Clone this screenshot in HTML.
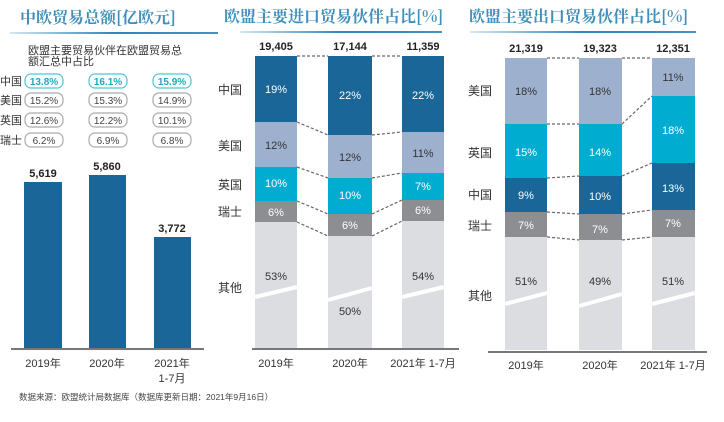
<!DOCTYPE html>
<html><head><meta charset="utf-8"><style>
body{margin:0;background:#fff;}
svg{display:block;font-family:"Liberation Sans","Noto Sans CJK SC",sans-serif;}
</style></head><body>
<svg width="724" height="422" viewBox="0 0 724 422" xmlns="http://www.w3.org/2000/svg">
<defs>
<linearGradient id="ul" x1="0" x2="1"><stop offset="0" stop-color="#2f86b8" stop-opacity="0.2"/><stop offset="0.5" stop-color="#2f86b8"/><stop offset="1" stop-color="#2f86b8" stop-opacity="0.9"/></linearGradient>
</defs>
<g font-size="16" fill="#3f8fbb" font-weight="bold" font-family="'Noto Serif CJK SC','Liberation Serif',serif">
<text x="20" y="23">中欧贸易总额[亿欧元]</text>
<text x="224" y="22">欧盟主要进口贸易伙伴占比[%]</text>
<text x="469" y="22">欧盟主要出口贸易伙伴占比[%]</text>
</g>
<rect x="10" y="32" width="208" height="2" fill="url(#ul)"/>
<rect x="240" y="31" width="202" height="2" fill="url(#ul)"/>
<rect x="470" y="31" width="226" height="2" fill="url(#ul)"/>

<g font-size="11" fill="#333">
<text x="28" y="54">欧盟主要贸易伙伴在欧盟贸易总</text>
<text x="28" y="65">额汇总中占比</text>
<text x="0" y="85">中国</text><text x="0" y="104">美国</text><text x="0" y="124">英国</text><text x="0" y="144">瑞士</text>
</g>
<g font-size="10" text-anchor="middle" fill="#444">
<g stroke-width="1.2" fill="#fff">
<rect x="25" y="74" width="38" height="14" rx="6" stroke="#4fc3d8"/>
<rect x="89" y="74" width="38" height="14" rx="6" stroke="#4fc3d8"/>
<rect x="153" y="74" width="38" height="14" rx="6" stroke="#4fc3d8"/>
<rect x="25" y="93" width="38" height="14" rx="6" stroke="#aaa"/>
<rect x="89" y="93" width="38" height="14" rx="6" stroke="#aaa"/>
<rect x="153" y="93" width="38" height="14" rx="6" stroke="#aaa"/>
<rect x="25" y="113" width="38" height="14" rx="6" stroke="#aaa"/>
<rect x="89" y="113" width="38" height="14" rx="6" stroke="#aaa"/>
<rect x="153" y="113" width="38" height="14" rx="6" stroke="#aaa"/>
<rect x="25" y="133" width="38" height="14" rx="6" stroke="#aaa"/>
<rect x="89" y="133" width="38" height="14" rx="6" stroke="#aaa"/>
<rect x="153" y="133" width="38" height="14" rx="6" stroke="#aaa"/>
</g>
<g fill="#1fa7c6" font-weight="bold"><text x="44" y="85">13.8%</text><text x="108" y="85">16.1%</text><text x="172" y="85">15.9%</text></g>
<text x="44" y="104">15.2%</text><text x="108" y="104">15.3%</text><text x="172" y="104">14.9%</text>
<text x="44" y="124">12.6%</text><text x="108" y="124">12.2%</text><text x="172" y="124">10.1%</text>
<text x="44" y="144">6.2%</text><text x="108" y="144">6.9%</text><text x="172" y="144">6.8%</text>
</g>
<g fill="#1a6699">
<rect x="24" y="182" width="38" height="167"/>
<rect x="89" y="175" width="37" height="174"/>
<rect x="154" y="237" width="37" height="112"/>
</g>
<g font-size="11" font-weight="bold" text-anchor="middle" fill="#222">
<text x="43" y="177">5,619</text><text x="107" y="170">5,860</text><text x="172" y="232">3,772</text>
</g>
<rect x="11" y="348" width="193" height="2" fill="#777"/>
<g font-size="11" text-anchor="middle" fill="#333">
<text x="43" y="367">2019年</text><text x="107" y="367">2020年</text><text x="172" y="367">2021年</text><text x="172" y="382">1-7月</text>
</g>

<g font-size="12" fill="#333">
<text x="218" y="94">中国</text><text x="218" y="150">美国</text><text x="218" y="189">英国</text><text x="218" y="216">瑞士</text><text x="218" y="292">其他</text>
</g>
<g>
<rect x="255" y="56" width="42" height="66" fill="#1a6699"/>
<rect x="255" y="122" width="42" height="45" fill="#9db1cf"/>
<rect x="255" y="167" width="42" height="34" fill="#00acd0"/>
<rect x="255" y="201" width="42" height="21" fill="#8d8e91"/>
<rect x="255" y="222" width="42" height="126" fill="#dcdde1"/>
<rect x="328" y="56" width="44" height="79" fill="#1a6699"/>
<rect x="328" y="135" width="44" height="43" fill="#9db1cf"/>
<rect x="328" y="178" width="44" height="36" fill="#00acd0"/>
<rect x="328" y="214" width="44" height="22" fill="#8d8e91"/>
<rect x="328" y="236" width="44" height="112" fill="#dcdde1"/>
<rect x="402" y="56" width="42" height="76" fill="#1a6699"/>
<rect x="402" y="132" width="42" height="41" fill="#9db1cf"/>
<rect x="402" y="173" width="42" height="27" fill="#00acd0"/>
<rect x="402" y="200" width="42" height="21" fill="#8d8e91"/>
<rect x="402" y="221" width="42" height="127" fill="#dcdde1"/>
<g stroke="#fff" stroke-width="4">
<line x1="255" y1="297" x2="297" y2="287"/><line x1="328" y1="300" x2="372" y2="288"/><line x1="402" y1="297" x2="444" y2="287"/>
</g>
<g stroke="#666" stroke-width="1.2" stroke-dasharray="3,2" fill="none">
<polyline points="297,56 328,56"/><polyline points="372,56 402,56"/>
<polyline points="297,122 328,135"/><polyline points="372,135 402,132"/>
<polyline points="297,167 328,178"/><polyline points="372,178 402,173"/>
<polyline points="297,201 328,214"/><polyline points="372,214 402,200"/>
<polyline points="297,222 328,236"/><polyline points="372,236 402,221"/>
</g>
<g font-size="11" text-anchor="middle" fill="#fff">
<text x="276" y="93">19%</text><text x="350" y="99">22%</text><text x="423" y="99">22%</text>
<text x="276" y="187">10%</text><text x="350" y="199">10%</text><text x="423" y="190">7%</text>
<text x="276" y="216">6%</text><text x="350" y="229">6%</text><text x="423" y="214">6%</text>
</g>
<g font-size="11" text-anchor="middle" fill="#333">
<text x="276" y="149">12%</text><text x="350" y="161">12%</text><text x="423" y="157">11%</text>
<text x="276" y="280">53%</text><text x="350" y="315">50%</text><text x="423" y="280">54%</text>
</g>
<g font-size="11" font-weight="bold" text-anchor="middle" fill="#222">
<text x="276" y="50">19,405</text><text x="350" y="50">17,144</text><text x="423" y="50">11,359</text>
</g>
</g>
<rect x="252" y="348" width="207" height="2" fill="#777"/>
<g font-size="11" text-anchor="middle" fill="#333">
<text x="276" y="367">2019年</text><text x="350" y="367">2020年</text><text x="423" y="367">2021年 1-7月</text>
</g>

<g font-size="12" fill="#333">
<text x="468" y="95">美国</text><text x="468" y="157">英国</text><text x="468" y="199">中国</text><text x="468" y="230">瑞士</text><text x="468" y="300">其他</text>
</g>
<g>
<rect x="505" y="58" width="42" height="66" fill="#9db1cf"/>
<rect x="505" y="124" width="42" height="54" fill="#00acd0"/>
<rect x="505" y="178" width="42" height="34" fill="#1a6699"/>
<rect x="505" y="212" width="42" height="25" fill="#8d8e91"/>
<rect x="505" y="237" width="42" height="113" fill="#dcdde1"/>
<rect x="579" y="58" width="43" height="66" fill="#9db1cf"/>
<rect x="579" y="124" width="43" height="52" fill="#00acd0"/>
<rect x="579" y="176" width="43" height="38" fill="#1a6699"/>
<rect x="579" y="214" width="43" height="26" fill="#8d8e91"/>
<rect x="579" y="240" width="43" height="110" fill="#dcdde1"/>
<rect x="652" y="58" width="43" height="38" fill="#9db1cf"/>
<rect x="652" y="96" width="43" height="67" fill="#00acd0"/>
<rect x="652" y="163" width="43" height="47" fill="#1a6699"/>
<rect x="652" y="210" width="43" height="27" fill="#8d8e91"/>
<rect x="652" y="237" width="43" height="113" fill="#dcdde1"/>
<g stroke="#fff" stroke-width="4">
<line x1="505" y1="304" x2="547" y2="293"/><line x1="579" y1="306" x2="622" y2="294"/><line x1="652" y1="304" x2="695" y2="293"/>
</g>
<g stroke="#666" stroke-width="1.2" stroke-dasharray="3,2" fill="none">
<polyline points="547,58 579,58"/><polyline points="622,58 652,58"/>
<polyline points="547,124 579,124"/><polyline points="622,124 652,96"/>
<polyline points="547,178 579,176"/><polyline points="622,176 652,163"/>
<polyline points="547,212 579,214"/><polyline points="622,214 652,210"/>
<polyline points="547,237 579,240"/><polyline points="622,240 652,237"/>
</g>
<g font-size="11" text-anchor="middle" fill="#333">
<text x="526" y="95">18%</text><text x="600" y="95">18%</text><text x="673" y="81">11%</text>
<text x="526" y="285">51%</text><text x="600" y="285">49%</text><text x="673" y="285">51%</text>
</g>
<g font-size="11" text-anchor="middle" fill="#fff">
<text x="526" y="156">15%</text><text x="600" y="156">14%</text><text x="673" y="134">18%</text>
<text x="526" y="199">9%</text><text x="600" y="200">10%</text><text x="673" y="192">13%</text>
<text x="526" y="229">7%</text><text x="600" y="233">7%</text><text x="673" y="227">7%</text>
</g>
<g font-size="11" font-weight="bold" text-anchor="middle" fill="#222">
<text x="526" y="52">21,319</text><text x="600" y="52">19,323</text><text x="673" y="52">12,351</text>
</g>
</g>
<rect x="488" y="351" width="219" height="2" fill="#777"/>
<g font-size="11" text-anchor="middle" fill="#333">
<text x="526" y="369">2019年</text><text x="600" y="369">2020年</text><text x="673" y="369">2021年 1-7月</text>
</g>

<text x="19" y="400" font-size="8.5" fill="#444">数据来源：欧盟统计局数据库（数据库更新日期：2021年9月16日）</text>
</svg>
</body></html>
